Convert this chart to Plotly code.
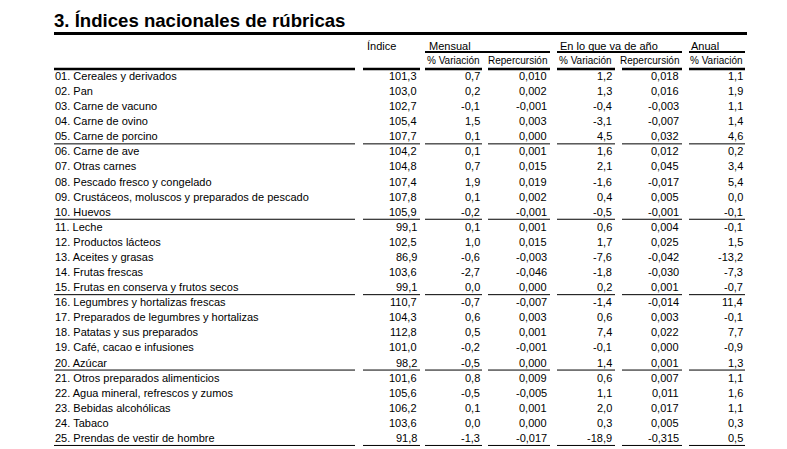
"""Tabla: índices nacionales de rúbricas (IPC), dibujada con Plotly."""
import plotly.graph_objects as go

# --- datos -----------------------------------------------------------------
rubricas = [
    "01. Cereales y derivados", "02. Pan", "03. Carne de vacuno",
    "04. Carne de ovino", "05. Carne de porcino", "06. Carne de ave",
    "07. Otras carnes", "08. Pescado fresco y congelado",
    "09. Crustáceos, moluscos y preparados de pescado", "10. Huevos",
    "11. Leche", "12. Productos lácteos", "13. Aceites y grasas",
    "14. Frutas frescas", "15. Frutas en conserva y frutos secos",
    "16. Legumbres y hortalizas frescas",
    "17. Preparados de legumbres y hortalizas", "18. Patatas y sus preparados",
    "19. Café, cacao e infusiones", "20. Azúcar",
    "21. Otros preparados alimenticios", "22. Agua mineral, refrescos y zumos",
    "23. Bebidas alcohólicas", "24. Tabaco", "25. Prendas de vestir de hombre",
]
indice = [101.3, 103.0, 102.7, 105.4, 107.7, 104.2, 104.8, 107.4, 107.8, 105.9,
          99.1, 102.5, 86.9, 103.6, 99.1, 110.7, 104.3, 112.8, 101.0, 98.2,
          101.6, 105.6, 106.2, 103.6, 91.8]
mensual_var = [0.7, 0.2, -0.1, 1.5, 0.1, 0.1, 0.7, 1.9, 0.1, -0.2,
               0.1, 1.0, -0.6, -2.7, 0.0, -0.7, 0.6, 0.5, -0.2, -0.5,
               0.8, -0.5, 0.1, 0.0, -1.3]
mensual_rep = [0.010, 0.002, -0.001, 0.003, 0.000, 0.001, 0.015, 0.019, 0.002, -0.001,
               0.001, 0.015, -0.003, -0.046, 0.000, -0.007, 0.003, 0.001, -0.001, 0.000,
               0.009, -0.005, 0.001, 0.000, -0.017]
anio_var = [1.2, 1.3, -0.4, -3.1, 4.5, 1.6, 2.1, -1.6, 0.4, -0.5,
            0.6, 1.7, -7.6, -1.8, 0.2, -1.4, 0.6, 7.4, -0.1, 1.4,
            0.6, 1.1, 2.0, 0.3, -18.9]
anio_rep = [0.018, 0.016, -0.003, -0.007, 0.032, 0.012, 0.045, -0.017, 0.005, -0.001,
            0.004, 0.025, -0.042, -0.030, 0.001, -0.014, 0.003, 0.022, 0.000, 0.001,
            0.007, 0.011, 0.017, 0.005, -0.315]
anual_var = [1.1, 1.9, 1.1, 1.4, 4.6, 0.2, 3.4, 5.4, 0.0, -0.1,
             -0.1, 1.5, -13.2, -7.3, -0.7, 11.4, -0.1, 7.7, -0.9, 1.3,
             1.1, 1.6, 1.1, 0.3, 0.5]

titulo = "3. Índices nacionales de rúbricas"
grupos = ["Índice", "Mensual", "En lo que va de año", "Anual"]
subcabeceras = ["% Variación", "Repercursión", "% Variación", "Repercursión", "% Variación"]

# --- geometría (eje x en píxeles, eje y en filas) ---------------------------
FONT = "Liberation Sans, Arial, sans-serif"
W, H = 787, 449
ROW0_PX, ROW_PX = 76, 15.08
LABEL_X = 53
# segmentos de columna: etiqueta, índice y las cinco de variación
SEG = [(54, 355), (363, 420), (425, 482), (488, 550), (557, 615), (622, 682), (689, 745)]
RIGHT = [419, 482, 549, 614, 681, 745]
GROUP_X = [365, 427, 558, 689]
GROUP_LINES = [(425, 550), (557, 682), (689, 745)]


def to_row(px):
    return (px - ROW0_PX) / ROW_PX


def fmt(v, dec):
    return f"{v:.{dec}f}".replace(".", ",")


fig = go.Figure()
ann, shapes = [], []


def text(x, y, s, anchor, size=11, bold=False):
    ann.append(dict(x=x, y=y, xref="x", yref="y", text=f"<b>{s}</b>" if bold else s,
                    showarrow=False, xanchor=anchor, yanchor="middle",
                    font=dict(family=FONT, size=size, color="black")))


def hline(x0, x1, y, w):
    shapes.append(dict(type="line", xref="x", yref="y", x0=x0, x1=x1, y0=y, y1=y,
                       line=dict(color="black", width=w)))


# título
text(LABEL_X - 1, to_row(20.5), titulo, "left", size=18.6, bold=True)
hline(54, 747, to_row(33.5), 3)

# cabeceras
for g, gx in zip(grupos, GROUP_X):
    text(gx, to_row(45.5), g, "left", size=11)
for x0, x1 in GROUP_LINES:
    hline(x0, x1, to_row(52), 2)
for s, rx in zip(subcabeceras, RIGHT[1:]):
    text(rx, to_row(60.5), s, "right", size=10)
for x0, x1 in SEG:
    hline(x0, x1, to_row(69), 2.5)

# cuerpo
columnas = [(indice, 1), (mensual_var, 1), (mensual_rep, 3),
            (anio_var, 1), (anio_rep, 3), (anual_var, 1)]
for i, nombre in enumerate(rubricas):
    text(LABEL_X, i, nombre, "left")
    for (vals, dec), rx in zip(columnas, RIGHT):
        text(rx, i, fmt(vals[i], dec), "right")
    if (i + 1) % 5 == 0:
        for x0, x1 in SEG:
            hline(x0, x1, i + 0.5, 1)

fig.update_layout(
    width=W, height=H, margin=dict(l=0, r=0, t=0, b=0),
    paper_bgcolor="white", plot_bgcolor="white",
    xaxis=dict(range=[0, W], visible=False, fixedrange=True),
    yaxis=dict(range=[to_row(H), to_row(0)], visible=False, fixedrange=True),
    annotations=ann, shapes=shapes, showlegend=False,
)
# la página por defecto deja 8 px de margen en el body
fig.write_html("out.html", config={"displayModeBar": False},
               post_script="document.body.style.margin='0';")
